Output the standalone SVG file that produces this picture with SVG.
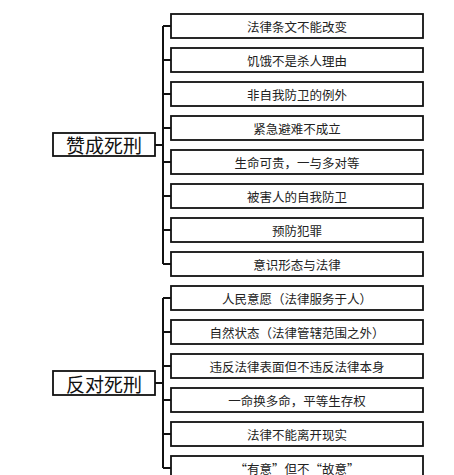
<svg xmlns="http://www.w3.org/2000/svg" width="454" height="475" viewBox="0 0 454 475">
<style>
.box{fill:#fff;stroke:#111;stroke-width:1.8}
.t{font-family:"Noto Sans CJK SC","Noto Sans",sans-serif;font-size:12.5px;fill:#222;text-anchor:middle;dominant-baseline:central}
.r{font-family:"Noto Sans CJK SC","Noto Sans",sans-serif;font-size:19px;fill:#111;text-anchor:middle;dominant-baseline:central}
.c{fill:none;stroke:#111;stroke-width:2}
</style>
<rect width="454" height="475" fill="#fff"/>
<g id="connectors">
<path class="c" d="M155 145H163M163 26V264M163 26H171M163 60H171M163 94H171M163 128H171M163 162H171M163 196H171M163 230H171M163 264H171"/>
<path class="c" d="M155 383H163M163 298V468M163 298H171M163 332H171M163 366H171M163 400H171M163 434H171M163 468H171"/>
</g>
<g id="root-yes"><rect class="box" x="53" y="133" width="102" height="23"/><text class="r" x="104" y="144.5">赞成死刑</text></g>
<g id="root-no"><rect class="box" x="53" y="371" width="102" height="24"/><text class="r" x="104" y="383">反对死刑</text></g>
<g id="n1"><rect class="box" x="171" y="14" width="252" height="24"/><text class="t" x="297" y="26">法律条文不能改变</text></g>
<g id="n2"><rect class="box" x="171" y="48" width="252" height="24"/><text class="t" x="297" y="60">饥饿不是杀人理由</text></g>
<g id="n3"><rect class="box" x="171" y="82" width="252" height="24"/><text class="t" x="297" y="94">非自我防卫的例外</text></g>
<g id="n4"><rect class="box" x="171" y="116" width="252" height="24"/><text class="t" x="297" y="128">紧急避难不成立</text></g>
<g id="n5"><rect class="box" x="171" y="150" width="252" height="24"/><text class="t" x="297" y="162">生命可贵，一与多对等</text></g>
<g id="n6"><rect class="box" x="171" y="184" width="252" height="24"/><text class="t" x="297" y="196">被害人的自我防卫</text></g>
<g id="n7"><rect class="box" x="171" y="218" width="252" height="24"/><text class="t" x="297" y="230">预防犯罪</text></g>
<g id="n8"><rect class="box" x="171" y="252" width="252" height="24"/><text class="t" x="297" y="264">意识形态与法律</text></g>
<g id="n9"><rect class="box" x="171" y="286" width="252" height="24"/><text class="t" x="297" y="298">人民意愿（法律服务于人）</text></g>
<g id="n10"><rect class="box" x="171" y="320" width="252" height="24"/><text class="t" x="297" y="332">自然状态（法律管辖范围之外）</text></g>
<g id="n11"><rect class="box" x="171" y="354" width="252" height="24"/><text class="t" x="297" y="366">违反法律表面但不违反法律本身</text></g>
<g id="n12"><rect class="box" x="171" y="388" width="252" height="24"/><text class="t" x="297" y="400">一命换多命，平等生存权</text></g>
<g id="n13"><rect class="box" x="171" y="422" width="252" height="24"/><text class="t" x="297" y="434">法律不能离开现实</text></g>
<g id="n14"><rect class="box" x="171" y="456" width="252" height="24"/><text class="t" x="297" y="468">“有意”但不“故意”</text></g>
</svg>
